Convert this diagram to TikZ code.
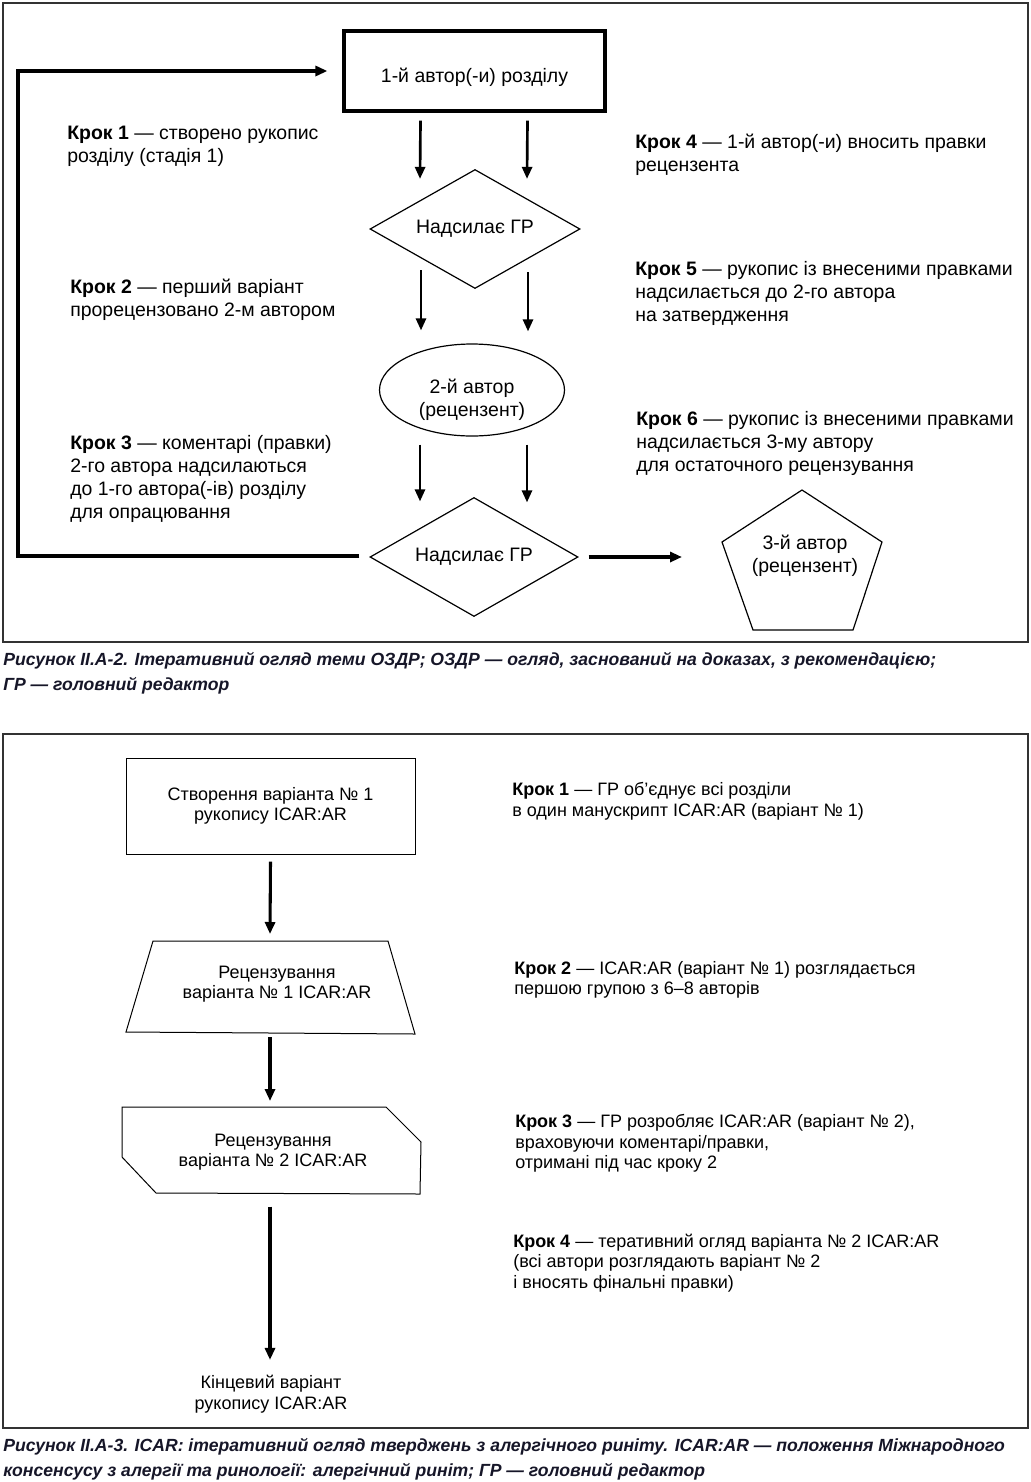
\documentclass[tikz,border=0pt]{standalone}
\usepackage{fontspec}
\setmainfont{Liberation Sans}
\usetikzlibrary{shapes.geometric,arrows.meta,calc}
\definecolor{capcol}{RGB}{22,22,40}
\definecolor{framecol}{RGB}{50,50,50}
\begin{document}
\begin{tikzpicture}[x=0.75pt,y=-0.75pt,
  arr/.style={line width=2pt,-{Triangle[length=9pt,width=7.5pt]}},
  arrb/.style={line width=2.3pt,-{Triangle[length=9pt,width=7.5pt]}},
  frame/.style={draw=framecol,line width=1pt},
  shp/.style={draw,line width=0.9pt},
  thinshp/.style={draw,line width=0.75pt},
  ta/.style={font=\fontsize{14.6pt}{17.25pt}\selectfont,align=left,inner sep=0pt,anchor=west},
  tac/.style={font=\fontsize{14.6pt}{17.25pt}\selectfont,align=center,inner sep=0pt},
  tb/.style={font=\fontsize{13.5pt}{15.4pt}\selectfont,align=left,inner sep=0pt,anchor=west},
  tbc/.style={font=\fontsize{13.5pt}{15.4pt}\selectfont,align=center,inner sep=0pt},
  captxt/.style={font=\fontsize{13.2pt}{18.75pt}\selectfont\bfseries\itshape,text=capcol,align=left,inner sep=0pt,anchor=west}]

\fill[white] (0,0) rectangle (1031,1482);
\useasboundingbox (0,0) rectangle (1031,1482);

% frames
\draw[frame] (3,3) rectangle (1028,642);
\draw[frame] (3,734) rectangle (1028,1428);

% ---------- upper diagram ----------
\node[draw,line width=2.4pt,minimum width=195.75pt,minimum height=60pt,inner sep=0pt,tac,text height=20pt,text depth=3pt] (box) at (474.5,71) {1-й автор(-и) розділу};
\node[diamond,aspect=1.75,shp,minimum width=157.5pt,minimum height=89.25pt,inner sep=0pt,tac] (d1) at (475,229) {Надсилає ГР};
\node[ellipse,shp,minimum width=138.75pt,minimum height=69pt] (e2) at (472,390) {};
\node[tac] (e2t) at (472,400) {2-й автор\\(рецензент)};
\node[diamond,aspect=1.75,shp,minimum width=156pt,minimum height=89.25pt,inner sep=0pt,tac] (d2) at (474,557) {Надсилає ГР};

\coordinate (p3w) at (722,542);
\draw[shp] (802,490) -- (882,542) -- (853,630) -- (753,630) -- (p3w) -- cycle;
\node[tac] (p3t) at (805,556) {3-й автор\\(рецензент)};

\draw[arr] ([shift={(-54,8)}]box.south) -- ([shift={(-55,10)}]d1.north);
\draw[arr] ([shift={(53,8)}]box.south) -- ([shift={(52,10)}]d1.north);
\draw[arr] ([shift={(-54,-19)}]d1.south) -- ([shift={(-51,-13)}]e2.north);
\draw[arr] ([shift={(53,-17)}]d1.south) -- ([shift={(56,-12)}]e2.north);
\draw[arr] ([shift={(-52,8)}]e2.south) -- ([shift={(-54,4.5)}]d2.north);
\draw[arr] ([shift={(55,8)}]e2.south) -- ([shift={(53,5.5)}]d2.north);
\draw[arrb] ([shift={(10,0)}]d2.east) -- ([shift={(-40,15)}]p3w);

\coordinate (fb) at (18,556);
\draw[arrb] ([shift={(-10,-1)}]d2.west) -- (fb) |- ([shift={(-15,0)}]box.west);

\node[ta] (k1) at (67,146) {\textbf{Крок 1} — створено рукопис\\розділу (стадія 1)};
\node[ta] (k2) at (70,300) {\textbf{Крок 2} — перший варіант\\прорецензовано 2-м автором};
\node[ta] (k3) at (70,479) {\textbf{Крок 3} — коментарі (правки)\\2-го автора надсилаються\\до 1-го автора(-ів) розділу\\для опрацювання};
\node[ta] (k4) at (635,155) {\textbf{Крок 4} — 1-й автор(-и) вносить правки\\рецензента};
\node[ta] (k5) at (635,293) {\textbf{Крок 5} — рукопис із внесеними правками\\надсилається до 2-го автора\\на затвердження};
\node[ta] (k6) at (636,443) {\textbf{Крок 6} — рукопис із внесеними правками\\надсилається 3-му автору\\для остаточного рецензування};

\node[captxt] (c1) at (3,673.5) {Рисунок II.A-2. Ітеративний огляд теми ОЗДР; ОЗДР — огляд, заснований на доказах, з рекомендацією;\\ГР — головний редактор};

% ---------- lower diagram ----------
\node[draw,line width=0.75pt,minimum width=216.75pt,minimum height=72pt,inner sep=0pt,tbc] (b1) at (270.5,806) {Створення варіанта № 1\\ рукопису ICAR:AR};

\coordinate (t1n) at (270,941);
\coordinate (t1s) at (270,1033);
\draw[thinshp] (153,941) -- (388,941) -- (415,1034) -- (126,1032) -- cycle;
\node[tbc] (t1) at (277,984) {Рецензування\\варіанта № 1 ICAR:AR};

\coordinate (h2n) at (270,1107);
\coordinate (h2s) at (270,1193.5);
\draw[thinshp] (122,1107) -- (386,1107) -- (421,1142) -- (420,1194) -- (156,1193) -- (122,1157) -- cycle;
\node[tbc] (h2) at (273,1152) {Рецензування\\варіанта № 2 ICAR:AR};

\node[tbc] (fin) at (271,1394) {Кінцевий варіант\\рукопису ICAR:AR};

\draw[arrb] ([shift={(0,7)}]b1.south) -- ([shift={(0,-7)}]t1n);
\draw[arrb] ([shift={(0,4)}]t1s) -- ([shift={(0,-6)}]h2n);
\draw[arrb] ([shift={(0,13)}]h2s) -- ([shift={(-1,-15)}]fin.north);

\node[tb] (s1) at (512,801) {\textbf{Крок 1} — ГР об’єднує всі розділи\\в один манускрипт ICAR:AR (варіант № 1)};
\node[tb] (s2) at (514,980) {\textbf{Крок 2} — ICAR:AR (варіант № 1) розглядається\\першою групою з 6–8 авторів};
\node[tb] (s3) at (515,1143.5) {\textbf{Крок 3} — ГР розробляє ICAR:AR (варіант № 2),\\враховуючи коментарі/правки,\\отримані під час кроку 2};
\node[tb] (s4) at (513,1263) {\textbf{Крок 4} — теративний огляд варіанта № 2 ICAR:AR\\(всі автори розглядають варіант № 2\\і вносять фінальні правки)};

\node[captxt] (c2) at (3,1459.5) {Рисунок II.A-3. ICAR: ітеративний огляд тверджень з алергічного риніту. ICAR:AR — положення Міжнародного\\консенсусу з алергії та ринології: алергічний риніт; ГР — головний редактор};
\end{tikzpicture}
\end{document}
